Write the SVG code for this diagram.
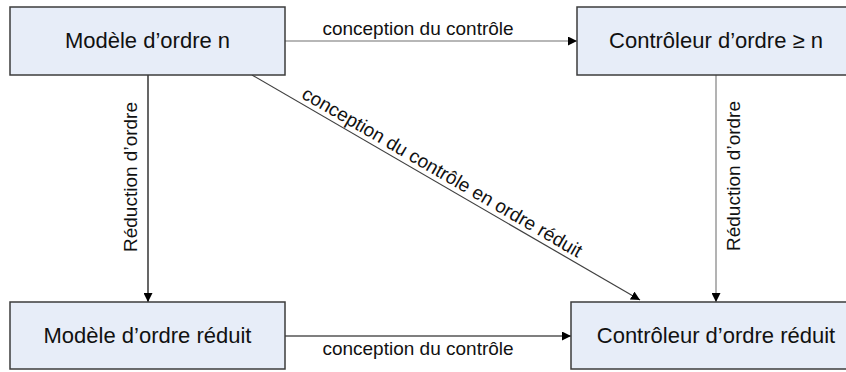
<svg xmlns="http://www.w3.org/2000/svg" width="846" height="372" viewBox="0 0 846 372">
  <style>
    .box { fill: #e7edf8; stroke: #3c3c3c; stroke-width: 1.5; }
    .nt { font-family: "Liberation Sans", Arial, sans-serif; font-size: 22px; fill: #111; text-anchor: middle; }
    .lt { font-family: "Liberation Sans", Arial, sans-serif; font-size: 19px; fill: #111; text-anchor: middle; }
    .edge { fill: none; stroke-width: 1.2; }
  </style>
  <defs>
    <marker id="ah" viewBox="0 0 10 10" refX="10" refY="5" markerWidth="9" markerHeight="9" markerUnits="userSpaceOnUse" orient="auto">
      <path d="M0,0 L10,5 L0,10 z" fill="#000"/>
    </marker>
  </defs>
  <rect width="846" height="372" fill="#fff"/>
  <g id="connectors">
    <line class="edge" x1="285" y1="41" x2="577" y2="41" stroke="#707070" marker-end="url(#ah)"/>
    <text class="lt" x="418" y="35">conception du contrôle</text>
    <line class="edge" x1="285" y1="336" x2="571" y2="336" stroke="#000" marker-end="url(#ah)"/>
    <text class="lt" x="418" y="355">conception du contrôle</text>
    <line class="edge" x1="148" y1="75" x2="148" y2="302" stroke="#000" marker-end="url(#ah)"/>
    <text class="lt" transform="translate(137,177) rotate(-90)">Réduction d’ordre</text>
    <line class="edge" x1="716" y1="75" x2="716" y2="302" stroke="#808080" marker-end="url(#ah)"/>
    <text class="lt" transform="translate(740,176) rotate(-90)">Réduction d’ordre</text>
    <line class="edge" x1="252" y1="75" x2="640" y2="300" stroke="#404040" marker-end="url(#ah)"/>
    <text class="lt" transform="translate(439,177.7) rotate(30.1)">conception du contrôle en ordre réduit</text>
  </g>
  <g id="node-modele-n">
    <rect class="box" x="10" y="7" width="275" height="68"/>
    <text class="nt" x="147.5" y="48">Modèle d’ordre n</text>
  </g>
  <g id="node-controleur-n">
    <rect class="box" x="577" y="7" width="280" height="68"/>
    <text class="nt" x="716" y="48">Contrôleur d’ordre ≥ n</text>
  </g>
  <g id="node-modele-reduit">
    <rect class="box" x="10" y="302" width="275" height="67"/>
    <text class="nt" x="147.5" y="343">Modèle d’ordre réduit</text>
  </g>
  <g id="node-controleur-reduit">
    <rect class="box" x="571" y="302" width="290" height="67"/>
    <text class="nt" x="716" y="343">Contrôleur d’ordre réduit</text>
  </g>
</svg>
